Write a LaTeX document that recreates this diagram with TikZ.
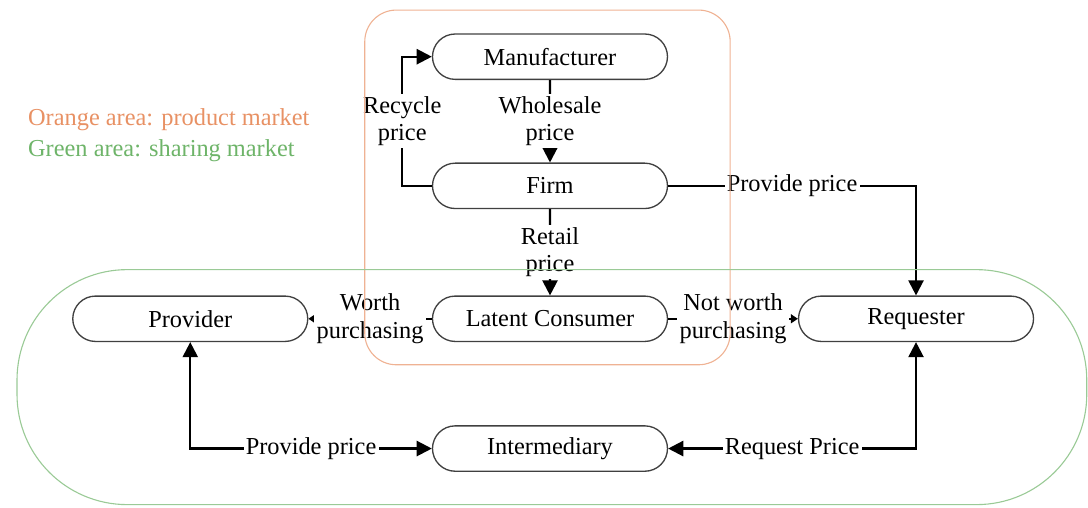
\documentclass[tikz,border=0pt]{standalone}
\usepackage{fontspec}
\setmainfont{Liberation Serif}
\usepackage{xcolor}
\usetikzlibrary{arrows.meta,positioning,shapes.misc}
\definecolor{prodorange}{RGB}{232,145,100}
\definecolor{sharegreen}{RGB}{110,180,105}
\tikzset{
  every node/.style={font=\fontsize{11}{12.5}\selectfont},
  agent/.style  ={rounded rectangle,draw=black!75,line width=0.6pt,minimum width=3.73cm,minimum height=0.72cm,inner sep=0pt},
  flow/.style   ={line width=1pt,-{Triangle[length=2.4mm,width=2.4mm]}},
  twoway/.style ={line width=1pt,{Triangle[length=2.4mm,width=2.4mm]}-{Triangle[length=2.4mm,width=2.4mm]}},
  choice/.style ={line width=0.8pt,-{Triangle[length=1.1mm,width=1.4mm]}},
  tag/.style    ={fill=white,inner sep=1pt,align=center},
  area/.style   ={line width=0.5pt,rounded corners=#1},
}

\begin{document}
\begin{tikzpicture}
  \useasboundingbox (0,0) rectangle (17.27,8.06);
  % agents
  \node[agent](manu) at (8.73,7.16){Manufacturer};
  \node[agent](firm) at (8.73,5.11){Firm};
  \node[agent](cons) at (8.73,3.0){Latent Consumer};
  \node[agent](prov) at (3.02,3.0){Provider};
  \node[agent](req) at (14.54,3.0){Requester};
  \node[agent](inter) at (8.73,0.94){Intermediary};
  % price flows
  \draw[flow](manu)--node[tag]{Wholesale\\price}(firm);
  \draw[flow](firm.west)--++(-0.47,0)|-node[tag,pos=0.25]{Recycle\\price}(manu.west);
  \draw[flow](firm)--node[tag]{Retail\\price}(cons);
  \draw[flow](firm.east)-|node[tag,pos=0.25]{Provide price}(req.north);
  \draw[choice](cons.west)--node[tag]{Worth\\purchasing}(prov.east);
  \draw[choice](cons.east)--node[tag]{Not worth\\purchasing}(req.west);
  \draw[twoway](prov.south)|-node[tag,pos=0.75]{Provide price}(inter.west);
  \draw[twoway](req.south)|-node[tag,pos=0.75]{Request Price}(inter.east);
  % market areas
  \draw[area=0.5cm,prodorange!70](5.79,2.27) rectangle (11.59,7.9);
  \draw[area=1.75cm,sharegreen!70](0.27,0.05) rectangle (17.25,3.78);
  \node[anchor=west,text=prodorange,inner sep=0pt](legprod) at (0.44,6.16){Orange area: product market};
  \node[text=sharegreen,inner sep=0pt,below=0.12cm of legprod.south west,anchor=north west](legshare){Green area: sharing market};
\end{tikzpicture}
\end{document}
